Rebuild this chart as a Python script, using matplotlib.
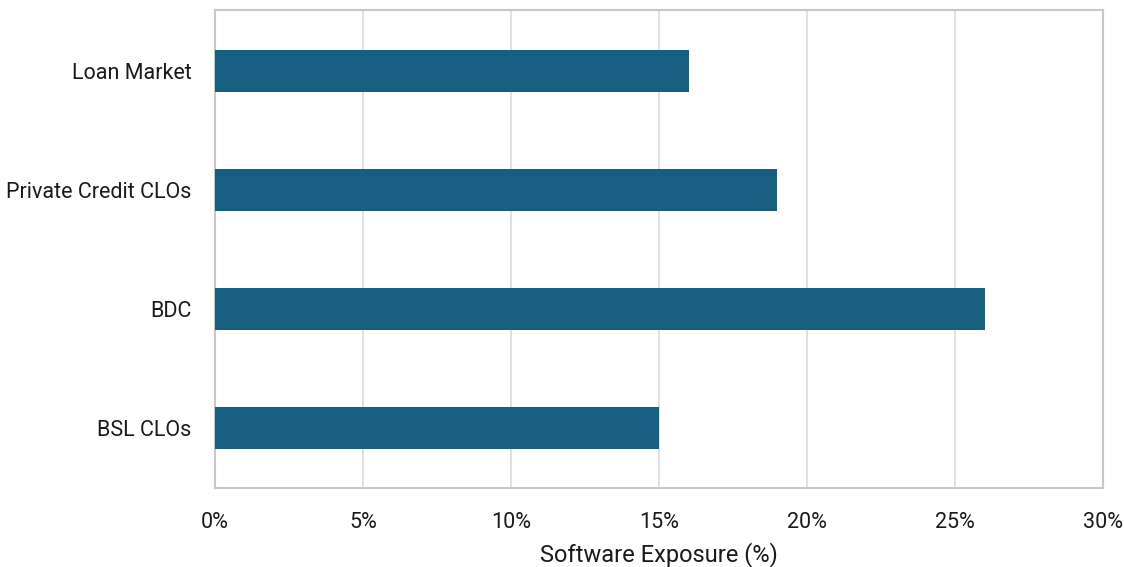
import matplotlib.pyplot as plt
from matplotlib.ticker import FuncFormatter

# datos del grafico (de abajo hacia arriba)
categorias = ['BSL CLOs', 'BDC', 'Private Credit CLOs', 'Loan Market']
exposicion = [15, 26, 19, 16]
ticks_x = [0, 5, 10, 15, 20, 25, 30]

plt.rcParams['font.family'] = ['Roboto', 'DejaVu Sans']

fig = plt.figure(figsize=(11.24, 5.67), dpi=100)
ax = fig.add_axes([0.1913, 0.1393, 0.79, 0.8431])

ax.barh(categorias, exposicion, height=0.353, color='#175F80', zorder=3)

ax.set_xlim(0, 30)
ax.set_ylim(-0.504, 3.513)
ax.set_xticks(ticks_x)
ax.xaxis.set_major_formatter(FuncFormatter(lambda v, p: f'{v:.0f}%'))
ax.grid(axis='x', color='#dadada', linewidth=1.2, zorder=0)
ax.tick_params(length=0, labelsize=15.5, colors='#1a1a1a')
ax.tick_params(axis='x', pad=17)
ax.tick_params(axis='y', pad=17)
for s in ax.spines.values():
    s.set_color('#c8c8c8')
    s.set_linewidth(1.5)

ax.set_xlabel('Software Exposure (%)', fontsize=17, color='#1a1a1a', labelpad=7)

plt.savefig('out.png')
